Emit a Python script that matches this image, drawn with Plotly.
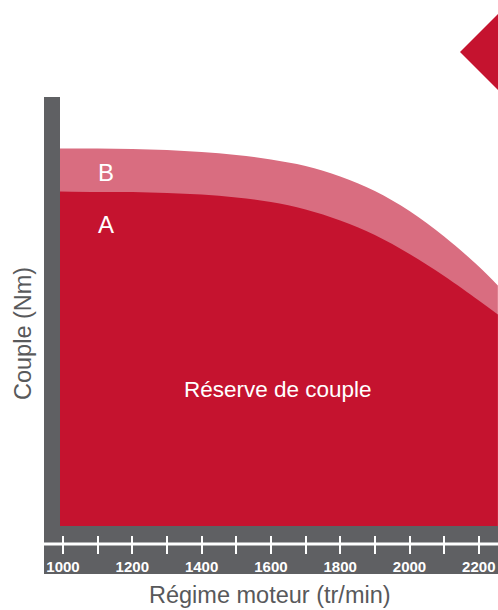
import plotly.graph_objects as go

# régime moteur (tr/min) et couple (Nm)
regime = [990, 1100, 1200, 1300, 1400, 1500, 1600, 1700, 1800, 1900, 2000, 2100, 2200, 2255]
couple_b = [755, 755, 754, 752, 748, 742, 733, 720, 699, 670, 630, 579, 519, 481]
couple_a = [669, 668, 668, 666, 663, 657, 648, 633, 611, 582, 544, 500, 451, 423]

tick_vals = list(range(1000, 2201, 100))
tick_text = [str(v) if v % 200 == 0 else "" for v in tick_vals]

ROUGE = "#C5132F"
ROSE = "#D96D80"
GRIS = "#5F6063"
TEXTE = "#58595B"
POLICE = "Liberation Sans, Arial, Helvetica, sans-serif"

W, H = 498, 610
ML, MR, MT, MB = 60, 0, 97, 36


# conversion pixels -> coordonnées papier
def px(x):
    return (x - ML) / (W - ML - MR)


def py(y):
    return (H - MB - y) / (H - MB - MT)


fig = go.Figure()

fig.add_trace(go.Scatter(x=regime, y=couple_b, mode="lines", line=dict(width=0, shape="spline"),
                         fill="tozeroy", fillcolor=ROSE, hoverinfo="skip", name="B"))
fig.add_trace(go.Scatter(x=regime, y=couple_a, mode="lines", line=dict(width=0, shape="spline"),
                         fill="tozeroy", fillcolor=ROUGE, hoverinfo="skip", name="A"))

shapes = [
    # barre verticale grise
    dict(type="rect", xref="paper", yref="paper", x0=px(44), x1=0, y0=0, y1=1,
         fillcolor=GRIS, line_width=0, layer="below"),
    # bande grise de l'axe x
    dict(type="rect", xref="paper", yref="paper", x0=px(44), x1=1, y0=0, y1=py(526),
         fillcolor=GRIS, line_width=0, layer="below"),
    # ligne blanche
    dict(type="line", xref="paper", yref="paper", x0=px(44), x1=1, y0=py(544), y1=py(544),
         line=dict(color="white", width=3)),
    # triangle rouge
    dict(type="path", xref="paper", yref="paper",
         path=f"M {px(460)},{py(52)} L {px(499)},{py(13)} L {px(499)},{py(91)} Z",
         fillcolor=ROUGE, line_width=0),
]

centre = dict(showarrow=False, xanchor="center", yanchor="middle")
annotations = [
    dict(x=1125, y=708, text="B", font=dict(family=POLICE, size=24, color="white"), **centre),
    dict(x=1125, y=604, text="A", font=dict(family=POLICE, size=24, color="white"), **centre),
    dict(x=1620, y=274, text="Réserve de couple",
         font=dict(family=POLICE, size=22.5, color="white"), **centre),
    dict(xref="paper", yref="paper", x=px(23), y=py(334), text="Couple (Nm)", textangle=-90,
         font=dict(family=POLICE, size=23.5, color=TEXTE), **centre),
    dict(xref="paper", yref="paper", x=px(270), y=py(595), text="Régime moteur (tr/min)",
         font=dict(family=POLICE, size=23.5, color=TEXTE), **centre),
]

fig.update_layout(
    width=W, height=H,
    margin=dict(l=ML, r=MR, t=MT, b=MB),
    paper_bgcolor="white", plot_bgcolor="white",
    showlegend=False,
    shapes=shapes,
    annotations=annotations,
    xaxis=dict(range=[991.3, 2255.4], anchor="free", position=py(535),
               tickvals=tick_vals, ticktext=tick_text,
               ticks="outside", ticklen=18, tickwidth=2, tickcolor="white",
               tickfont=dict(family=POLICE, size=15, color="white", weight="bold"),
               showgrid=False, zeroline=False, showline=False, fixedrange=True),
    yaxis=dict(range=[0, 858], domain=[py(526), 1], visible=False,
               showgrid=False, zeroline=False, fixedrange=True),
)

fig.write_html("out.html", config={"displayModeBar": False},
               post_script="document.body.style.margin = '0';")
